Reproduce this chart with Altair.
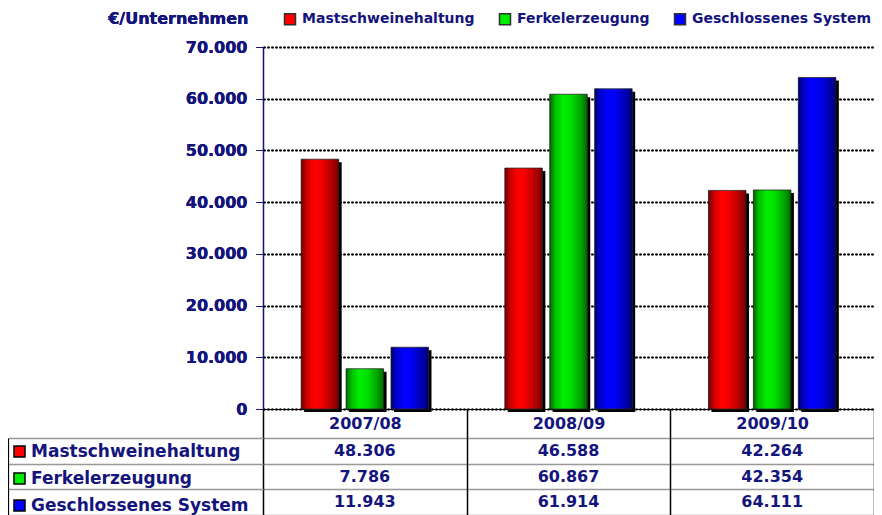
import altair as alt
import pandas as pd

categories = ["2007/08", "2008/09", "2009/10"]
series = ["Mastschweinehaltung", "Ferkelerzeugung", "Geschlossenes System"]
mast = [48306, 46588, 42264]
ferkel = [7786, 60867, 42354]
geschl = [11943, 61914, 64111]
colors = ["#ff0000", "#00ee00", "#0000ff"]
y_ticks = [0, 10000, 20000, 30000, 40000, 50000, 60000, 70000]

NAVY = "#14147d"
FONT = "DejaVu Sans"

rows = []
for s, vals in zip(series, [mast, ferkel, geschl]):
    for c, v in zip(categories, vals):
        rows.append({"cat": c, "series": s, "series2": s, "value": v})
df = pd.DataFrame(rows)

W, H = 611, 362

x_enc = alt.X("cat:N", scale=alt.Scale(domain=categories, paddingInner=0, paddingOuter=0),
              axis=alt.Axis(orient="bottom", title=None, domainColor="black", domainWidth=1,
                            tickBand="extent", tickSize=112, tickColor="black", tickWidth=1.5,
                            labelFont=FONT, labelFontWeight="bold", labelFontSize=16,
                            labelColor=NAVY, labelPadding=-106, labelBaseline="top",
                            labelAngle=0, labelAlign="center"))
xoff_scale = alt.Scale(domain=series, paddingInner=0.165, paddingOuter=0.85)
y_enc = alt.Y("value:Q", scale=alt.Scale(domain=[0, 70000], nice=False),
              axis=alt.Axis(orient="left", values=y_ticks, title="€/Unternehmen",
                            titleAngle=0, titleAlign="right", titleBaseline="middle",
                            titleX=-15, titleY=-29, titleFont=FONT, titleFontWeight="bold",
                            titleFontSize=16, titleColor=NAVY,
                            labelExpr="replace(format(datum.value, ','), ',', '.')",
                            labelFont=FONT, labelFontWeight="bold", labelFontSize=16,
                            labelColor=NAVY, labelPadding=9,
                            domainColor=NAVY, domainWidth=1.2, tickColor=NAVY, tickSize=7,
                            grid=True, gridColor="black", gridDash=[2, 2], gridWidth=1.3))

base = alt.Chart(df)

shadow = base.mark_bar(color="black", yOffset=3).encode(
    x=x_enc,
    xOffset=alt.XOffset("series:N", scale=alt.Scale(domain=series, paddingInner=0.165,
                                                    paddingOuter=0.85, range=[3, 3 + W / 3])),
    y=y_enc,
)

bars = base.mark_bar(stroke="#303030", strokeWidth=0.8).encode(
    x=x_enc,
    xOffset=alt.XOffset("series:N", scale=xoff_scale),
    y=y_enc,
    color=alt.Color("series:N", scale=alt.Scale(domain=series, range=colors),
                    legend=alt.Legend(orient="none", legendX=20, legendY=-35,
                                      direction="horizontal", title=None, symbolType="square",
                                      symbolSize=121, labelFont=FONT, labelFontWeight="bold",
                                      labelFontSize=14, labelColor=NAVY, labelOffset=5,
                                      labelLimit=0, columnPadding=21, padding=0)),
)

overlay_grad = alt.LinearGradient(
    gradient="linear", x1=0, x2=1, y1=0, y2=0,
    stops=[alt.GradientStop(color="rgba(0,0,0,0.55)", offset=0),
           alt.GradientStop(color="rgba(0,0,0,0.2)", offset=0.15),
           alt.GradientStop(color="rgba(0,0,0,0)", offset=0.35),
           alt.GradientStop(color="rgba(0,0,0,0.05)", offset=0.55),
           alt.GradientStop(color="rgba(0,0,0,0.3)", offset=0.82),
           alt.GradientStop(color="rgba(0,0,0,0.55)", offset=1)])

overlay = base.mark_bar(fill=overlay_grad).encode(
    x=x_enc,
    xOffset=alt.XOffset("series:N", scale=xoff_scale),
    y=y_enc,
)

row_range = [438 - 47, 515 - 47]

table_text = base.transform_calculate(
    label="replace(format(datum.value, ','), ',', '.')"
).mark_text(font=FONT, fontWeight="bold", fontSize=16, color=NAVY, baseline="middle").encode(
    x=x_enc,
    y=alt.Y("series:N", scale=alt.Scale(domain=series, range=row_range, paddingInner=0, paddingOuter=0),
            axis=alt.Axis(orient="left", title=None, labels=False, domain=False,
                          tickBand="extent", tickSize=255, tickColor="#999999", tickWidth=1.5,
                          grid=True, gridColor="#999999", gridWidth=1.5, gridDash=[])),
    text="label:N",
)

table_legend = base.mark_square(size=0, stroke="black", strokeWidth=1, filled=True, opacity=1).encode(
    x=x_enc,
    y=alt.Y("series2:N", scale=alt.Scale(domain=series, range=row_range, paddingInner=0, paddingOuter=0),
            axis=alt.Axis(orient="left", title=None, labels=False, ticks=False, grid=False,
                          domain=True, domainColor="black", domainWidth=1.2, offset=255)),
    fill=alt.Fill("series2:N", sort=series, scale=alt.Scale(range=colors),
                  legend=alt.Legend(orient="none", legendX=-252, legendY=396, direction="vertical",
                                    title=None, symbolType="square", symbolSize=121,
                                    symbolOpacity=1, symbolStrokeColor="black",
                                    labelFont=FONT, labelFontWeight="bold", labelFontSize=17,
                                    labelColor=NAVY, labelOffset=3, labelLimit=0,
                                    rowPadding=9, padding=0)),
)

chart = alt.layer(shadow, bars, overlay, table_text, table_legend).resolve_scale(
    y="independent", xOffset="independent", fill="independent"
).resolve_legend(fill="independent", color="independent").properties(
    width=W, height=H,
    autosize=alt.AutoSizeParams(type="none"),
    padding={"left": 255, "top": 39, "right": 0, "bottom": 106},
).configure_view(stroke=None)

chart.save("out.html", embed_options={"renderer": "svg", "actions": False})
